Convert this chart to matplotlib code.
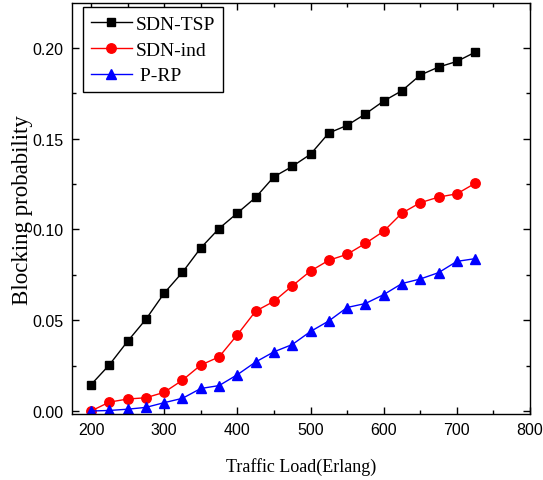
import numpy as np
import matplotlib
matplotlib.use('Agg')
import matplotlib.pyplot as plt
from matplotlib.ticker import MultipleLocator

# Data
load = [200, 225, 250, 275, 300, 325, 350, 375, 400, 425, 450,
        475, 500, 525, 550, 575, 600, 625, 650, 675, 700, 725]
sdn_tsp = [0.0145, 0.0254, 0.0384, 0.0505, 0.0649, 0.0764, 0.0898, 0.1005, 0.109, 0.1176, 0.129,
           0.1347, 0.1414, 0.1531, 0.1573, 0.1636, 0.1707, 0.1764, 0.185, 0.1894, 0.1925, 0.1976]
sdn_ind = [0.0000, 0.0049, 0.0066, 0.0073, 0.0103, 0.0170, 0.0253, 0.0298, 0.0420, 0.0550, 0.0604,
           0.0689, 0.0771, 0.0830, 0.0863, 0.0923, 0.0990, 0.1090, 0.1147, 0.1178, 0.1196, 0.1254]
p_rp = [0.0000, 0.0003, 0.0010, 0.0020, 0.0046, 0.0070, 0.0124, 0.0140, 0.0200, 0.0270, 0.0326,
        0.0366, 0.0438, 0.0496, 0.0570, 0.0592, 0.0641, 0.0702, 0.0727, 0.0762, 0.0824, 0.0839]

fig = plt.figure(figsize=(5.43, 4.81), dpi=100)
ax = fig.add_axes([0.1326, 0.137, 0.8435, 0.854])

ax.plot(load, sdn_tsp, color='black', marker='s', markersize=6, linewidth=1, label='SDN-TSP')
ax.plot(load, sdn_ind, color='red', marker='o', markersize=6.8, linewidth=1, label='SDN-ind')
ax.plot(load, p_rp, color='blue', marker='^', markersize=7, linewidth=1, label=' P-RP')

ax.set_xlim(174, 800)
ax.set_ylim(-0.0017, 0.2245)
ax.xaxis.set_major_locator(MultipleLocator(100))
ax.xaxis.set_minor_locator(MultipleLocator(50))
ax.yaxis.set_major_locator(MultipleLocator(0.05))
ax.yaxis.set_minor_locator(MultipleLocator(0.025))
ax.yaxis.set_major_formatter(matplotlib.ticker.FormatStrFormatter('%.2f'))
ax.tick_params(which='both', direction='in', top=True, right=True, width=1)
ax.tick_params(which='major', length=5, labelsize=11.5, pad=6)
ax.tick_params(which='minor', length=3)
for lbl in ax.get_xticklabels() + ax.get_yticklabels():
    lbl.set_fontfamily('Liberation Sans')
for s in ax.spines.values():
    s.set_linewidth(1)

ax.set_xlabel('Traffic Load(Erlang)', fontsize=13, family='Liberation Serif', labelpad=14)
ax.set_ylabel('Blocking probability', fontsize=16.5, family='Liberation Serif', labelpad=0)

leg = ax.legend(loc='upper left', bbox_to_anchor=(0.024, 0.990), prop={'family': 'Liberation Serif', 'size': 14},
                fancybox=False, edgecolor='black', framealpha=1, handlelength=2.1, handletextpad=0.2,
                borderpad=0.4, labelspacing=0.42, borderaxespad=0)
leg.get_frame().set_linewidth(1)

plt.savefig('out.png', dpi=100)
